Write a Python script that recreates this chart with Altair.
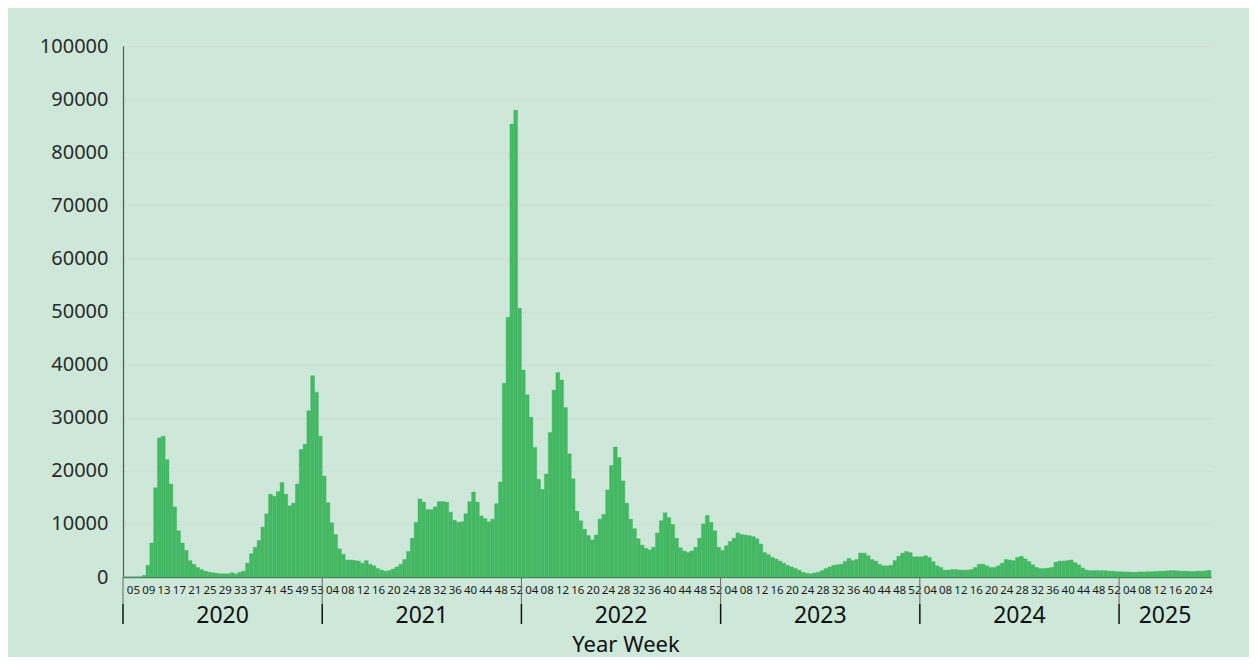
import altair as alt
import pandas as pd

# ---- data (weekly counts) ----
years = [2020, 2021, 2022, 2023, 2024, 2025]
first_week = [2, 1, 1, 1, 1, 1]

cases_2020 = [0, 0, 0, 0, 0, 300, 2200, 6400, 16800, 26200, 26500, 22100, 17500, 13200,
              8700, 6400, 5000, 3100, 2400, 1800, 1400, 1100, 900, 800, 700, 600, 600, 600,
              800, 600, 900, 1100, 2600, 4400, 5600, 6900, 9400, 11900, 15600, 15200, 16100,
              17800, 15600, 13400, 13900, 17500, 24000, 25000, 31300, 37900, 34800, 26500]
cases_2021 = [19000, 14000, 10200, 8000, 5300, 4300, 3200, 3200, 3100, 3000, 2600, 3100,
              2400, 2100, 1600, 1300, 1100, 1200, 1500, 1900, 2400, 3300, 4800, 7300, 10300,
              14700, 14100, 12700, 12700, 13200, 14200, 14200, 14100, 12200, 10700, 10300,
              10400, 11900, 14200, 16000, 14100, 11500, 11000, 10400, 10900, 13800, 17900,
              36500, 48900, 85300, 87900, 50600]
cases_2022 = [39000, 34300, 30100, 24400, 18400, 16500, 19400, 27200, 35200, 38500, 37100,
              31900, 23200, 18500, 12400, 10600, 9000, 7800, 7000, 7900, 10900, 11800, 16400,
              21000, 24500, 22500, 18100, 13900, 10900, 9100, 7200, 6000, 5400, 5100, 5600,
              8300, 10600, 12100, 11200, 9900, 7300, 5500, 4900, 4600, 4900, 5600, 7300,
              10000, 11600, 10300, 8700, 5600]
cases_2023 = [5000, 5900, 6700, 7300, 8300, 8000, 7900, 7800, 7600, 7200, 6200, 4600, 4200,
              3700, 3400, 3000, 2600, 2200, 1900, 1600, 1300, 900, 700, 600, 750, 900, 1200,
              1600, 1900, 2200, 2300, 2400, 2950, 3500, 3100, 3300, 4500, 4500, 4000, 3300,
              3000, 2400, 2100, 2100, 2200, 3100, 3900, 4500, 4800, 4600, 3800, 3800]
cases_2024 = [3800, 4000, 3700, 2900, 2100, 1800, 1300, 1300, 1400, 1400, 1300, 1300, 1300,
              1400, 1800, 2400, 2400, 2100, 1800, 1800, 2100, 2600, 3300, 3200, 3100, 3700,
              3900, 3400, 2900, 2300, 1800, 1600, 1600, 1700, 1800, 2800, 3000, 3000, 3100,
              3200, 2700, 2300, 1700, 1300, 1200, 1200, 1200, 1200, 1200, 1100, 1100, 1000]
cases_2025 = [1000, 950, 950, 900, 900, 950, 950, 1000, 1000, 1050, 1100, 1100, 1150, 1200,
              1200, 1150, 1100, 1100, 1050, 1050, 1100, 1100, 1150, 1250]
series = [cases_2020, cases_2021, cases_2022, cases_2023, cases_2024, cases_2025]

y_ticks = list(range(0, 100001, 10000))
x_title = "Year Week"

# ---- tables ----
rows, seps, ylabels = [], [], []
idx = 0
for yr, fw, vals in zip(years, first_week, series):
    keys = []
    for i, v in enumerate(vals):
        key = f"{yr}-{fw + i:02d}"
        keys.append(key)
        rows.append({"key": key, "idx": idx, "cases": v})
        idx += 1
    seps.append({"key": keys[0]})
    ylabels.append({"key": keys[len(keys) // 2], "label": str(yr)})

df = pd.DataFrame(rows)
sep_df = pd.DataFrame(seps)
year_df = pd.DataFrame(ylabels)
title_df = pd.DataFrame({"t": [x_title]})
tick_keys = [r["key"] for r in rows if r["idx"] % 4 == 3]

W, H = 1088, 531
FONT = "Noto Sans"
GREEN = "#45b864"

xaxis = alt.Axis(values=tick_keys, labelExpr="substring(datum.label, 5, 7)",
                 labelAngle=0, ticks=False, labelOverlap=False, title=None,
                 labelFontSize=11.5, labelColor="#1a1a1a", labelPadding=7,
                 labelOffset=-3, domainColor="#4d7a5a", domainWidth=1.5,
                 labelFont=FONT, grid=False)
xscale = alt.Scale(paddingInner=0, paddingOuter=0)


def xenc(**kw):
    return alt.X("key:O", scale=xscale, sort="ascending", axis=xaxis, **kw)


bars = alt.Chart(df).mark_bar(color=GREEN, stroke=GREEN, strokeWidth=0.4).encode(
    x=xenc(),
    y=alt.Y("cases:Q", scale=alt.Scale(domain=[0, 100000], nice=False),
            axis=alt.Axis(values=y_ticks, format="d", title=None, ticks=False,
                          labelFontSize=20, labelColor="#2a2a2a", labelPadding=15,
                          domainColor="#555", domainWidth=1.2, grid=True,
                          gridColor="#cfd5cf", gridDash=[2, 2], gridWidth=1,
                          labelFont=FONT)),
)

sep_light = alt.Chart(sep_df).mark_rule(color="#666", strokeWidth=1).encode(
    x=xenc(bandPosition=0),
    y=alt.value(H), y2=alt.value(H + 27),
)
sep_dark = alt.Chart(sep_df).mark_rule(color="#111", strokeWidth=1.5).encode(
    x=xenc(bandPosition=0),
    y=alt.value(H + 27), y2=alt.value(H + 47),
)
year_text = alt.Chart(year_df).mark_text(fontSize=23, font=FONT, color="#111",
                                         baseline="middle").encode(
    x=xenc(bandPosition=0),
    y=alt.value(H + 39),
    text="label:N",
)
title_text = alt.Chart(title_df).mark_text(fontSize=22, font=FONT, color="#111",
                                           baseline="alphabetic").encode(
    x=alt.value(503), y=alt.value(H + 75), text="t:N",
)

chart = alt.layer(bars, sep_light, sep_dark, year_text, title_text).properties(
    width=W, height=H,
    autosize=alt.AutoSizeParams(type="none"),
    padding={"left": 115, "top": 38, "right": 38, "bottom": 80},
    background="#cde8d8",
).configure_view(fill="#e0f0e6", strokeWidth=0).configure(font=FONT)

chart.save("out.html", embed_options={"renderer": "svg", "actions": False})
